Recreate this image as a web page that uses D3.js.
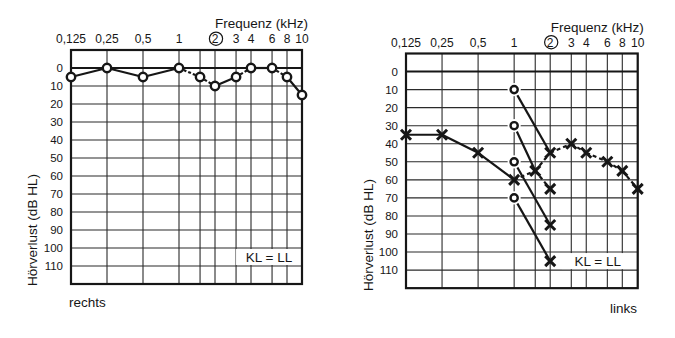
<!DOCTYPE html>
<html><head><meta charset="utf-8">
<script src="https://cdn.jsdelivr.net/npm/d3@7"></script>
<style>html,body{margin:0;padding:0;background:#fff;}svg{display:block;font-family:"Liberation Sans",Arial,sans-serif;}</style>
</head><body>
<svg id="c" width="675" height="338"></svg>
<script>
// ---- data ----
const freqs = [0.125, 0.25, 0.5, 1, 1.5, 2, 3, 4, 6, 8, 10];
const tickFreqs = [0.125, 0.25, 0.5, 1, 2, 3, 4, 6, 8, 10];
const tickLabels = ["0,125", "0,25", "0,5", "1", "2", "3", "4", "6", "8", "10"];
const circledFreq = 2;
const dbTicks = [0, 10, 20, 30, 40, 50, 60, 70, 80, 90, 100, 110];
// right ear (rechts), air conduction, O
const rechtsValues = [5, 0, 5, 0, 5, 10, 5, 0, 0, 5, 15];
const rechtsDashed = [0, 0, 0, 1, 1, 0, 1, 0, 1, 0];
// left ear (links), air conduction, X
const linksValues = [35, 35, 45, 60, 55, 45, 40, 45, 50, 55, 65];
const linksDashed = [0, 0, 0, 1, 1, 1, 1, 1, 1, 1];
// masking series on the left-ear chart
const maskFreq = 1;
const maskLevels = [10, 30, 50, 70];
const maskTargetFreq = 2;
const maskTargets = [45, 65, 85, 105];
const maskVia = [null, {f: 1.5, db: 55}, null, null];
const noteText = "KL = LL";

const svg = d3.select("#c");
const ink = "#161616";

function chart(cfg) {
  const g = svg.append("g");
  const x = d3.scaleLog().domain([0.125, 8, 10]).range([cfg.x0, cfg.x8, cfg.x1]);
  const y = d3.scaleLinear().domain([-10, 120]).range([cfg.y0, cfg.y0 + 130 * cfg.k]);

  // grid
  g.selectAll(".vg").data(freqs).join("line")
    .attr("x1", d => x(d)).attr("x2", d => x(d))
    .attr("y1", y(-10)).attr("y2", y(120))
    .attr("stroke", "#2a2a2a").attr("stroke-width", 1.1);
  g.selectAll(".hg").data(dbTicks).join("line")
    .attr("x1", x(0.125)).attr("x2", x(10))
    .attr("y1", d => y(d)).attr("y2", d => y(d))
    .attr("stroke", d => d === 0 ? ink : "#2a2a2a")
    .attr("stroke-width", d => d === 0 ? 2 : 1.1);

  // note box
  const bx = x(cfg.boxFrom);
  g.append("rect").attr("x", bx).attr("y", y(100) + 1)
    .attr("width", x(10) - bx - 1).attr("height", y(110) - y(100) - 2)
    .attr("fill", "#fff");
  g.append("text").attr("x", (bx + x(10)) / 2 + cfg.noteDx).attr("y", (y(100) + y(110)) / 2)
    .attr("dy", "0.36em").attr("text-anchor", "middle")
    .attr("font-size", 13.5).attr("fill", ink).text(noteText);

  // frame
  g.append("rect").attr("x", x(0.125)).attr("y", y(-10))
    .attr("width", x(10) - x(0.125)).attr("height", y(120) - y(-10))
    .attr("fill", "none").attr("stroke", ink).attr("stroke-width", 2.2);

  // top axis labels
  g.selectAll(".tl").data(tickFreqs).join("text")
    .attr("x", d => x(d)).attr("y", cfg.tickY)
    .attr("text-anchor", "middle").attr("font-size", 12).attr("fill", ink)
    .text((d, i) => tickLabels[i]);
  g.append("circle").attr("cx", x(circledFreq) + 1).attr("cy", cfg.tickY - 4.3)
    .attr("r", 6.6).attr("fill", "none").attr("stroke", ink).attr("stroke-width", 1.2);
  g.append("text").attr("x", x(10) + 6).attr("y", cfg.titleY)
    .attr("text-anchor", "end").attr("font-size", 13.5).attr("fill", ink).text("Frequenz (kHz)");

  // left axis labels
  g.selectAll(".yl").data(dbTicks).join("text")
    .attr("x", x(0.125) - 8).attr("y", d => y(d)).attr("dy", "0.36em")
    .attr("text-anchor", "end").attr("font-size", 11.5).attr("fill", ink).text(d => d);
  g.append("text")
    .attr("transform", `translate(${cfg.yTitleX},${cfg.yTitleY}) rotate(-90)`)
    .attr("text-anchor", "middle").attr("font-size", 13.5).attr("fill", ink).text("Hörverlust (dB HL)");

  g.append("text").attr("x", cfg.earX).attr("y", cfg.earY).attr("text-anchor", cfg.earAnchor)
    .attr("font-size", 13.5).attr("fill", ink).text(cfg.ear);
  return {g, x, y};
}

function segments(g, x, y, vals, dashed, dash) {
  const segs = d3.range(vals.length - 1).map(i => ({a: i, b: i + 1, d: dashed[i]}));
  g.selectAll(null).data(segs).join("line")
    .attr("x1", s => x(freqs[s.a])).attr("y1", s => y(vals[s.a]))
    .attr("x2", s => x(freqs[s.b])).attr("y2", s => y(vals[s.b]))
    .attr("stroke", ink).attr("stroke-width", 2.2)
    .attr("stroke-dasharray", s => s.d ? dash : null);
}
function circles(g, pts, r, halo) {
  if (halo) g.selectAll(null).data(pts).join("circle")
    .attr("cx", p => p[0]).attr("cy", p => p[1]).attr("r", r + 3).attr("fill", "#fff");
  g.selectAll(null).data(pts).join("circle")
    .attr("cx", p => p[0]).attr("cy", p => p[1]).attr("r", r)
    .attr("fill", "#fff").attr("stroke", ink).attr("stroke-width", 2.4);
}
function crosses(g, pts, s) {
  g.selectAll(null).data(pts).join("path")
    .attr("d", q => `M${q[0]-s},${q[1]-s}L${q[0]+s},${q[1]+s}M${q[0]-s},${q[1]+s}L${q[0]+s},${q[1]-s}`)
    .attr("stroke", ink).attr("stroke-width", 3).attr("fill", "none");
}

// ---- left panel: rechts ----
const L = chart({x0: 71, x8: 287, x1: 302, y0: 50, k: 1.8, tickY: 43, titleY: 28,
  yTitleX: 37, yTitleY: 230, ear: "rechts", earX: 69, earY: 307, earAnchor: "start",
  boxFrom: 3, noteDx: 0});
segments(L.g, L.x, L.y, rechtsValues, rechtsDashed, "3,2");
circles(L.g, freqs.map((f, i) => [L.x(f), L.y(rechtsValues[i])]), 4.2, false);

// ---- right panel: links ----
const R = chart({x0: 406, x8: 622.3, x1: 637.7, y0: 53.5, k: 1.805, tickY: 46.5, titleY: 32,
  yTitleX: 373, yTitleY: 235, ear: "links", earX: 637, earY: 313, earAnchor: "end",
  boxFrom: 2.5, noteDx: -2});
segments(R.g, R.x, R.y, linksValues, linksDashed, "4,3");
// masking lines
maskLevels.forEach((lv, i) => {
  const v = maskVia[i];
  if (v) {
    R.g.append("line").attr("x1", R.x(maskFreq)).attr("y1", R.y(lv))
      .attr("x2", R.x(v.f)).attr("y2", R.y(v.db)).attr("stroke", ink).attr("stroke-width", 2.2);
    R.g.append("line").attr("x1", R.x(v.f)).attr("y1", R.y(v.db))
      .attr("x2", R.x(maskTargetFreq)).attr("y2", R.y(maskTargets[i]))
      .attr("stroke", ink).attr("stroke-width", 2.2).attr("stroke-dasharray", "4,3");
  } else {
    R.g.append("line").attr("x1", R.x(maskFreq)).attr("y1", R.y(lv))
      .attr("x2", R.x(maskTargetFreq)).attr("y2", R.y(maskTargets[i]))
      .attr("stroke", ink).attr("stroke-width", 2.2);
  }
});
circles(R.g, maskLevels.map(lv => [R.x(maskFreq), R.y(lv)]), 3.6, true);
crosses(R.g, freqs.map((f, i) => [R.x(f), R.y(linksValues[i])]), 5);
crosses(R.g, maskTargets.filter(t => t !== 45).map(t => [R.x(maskTargetFreq), R.y(t)]), 5);
</script>
</body></html>
